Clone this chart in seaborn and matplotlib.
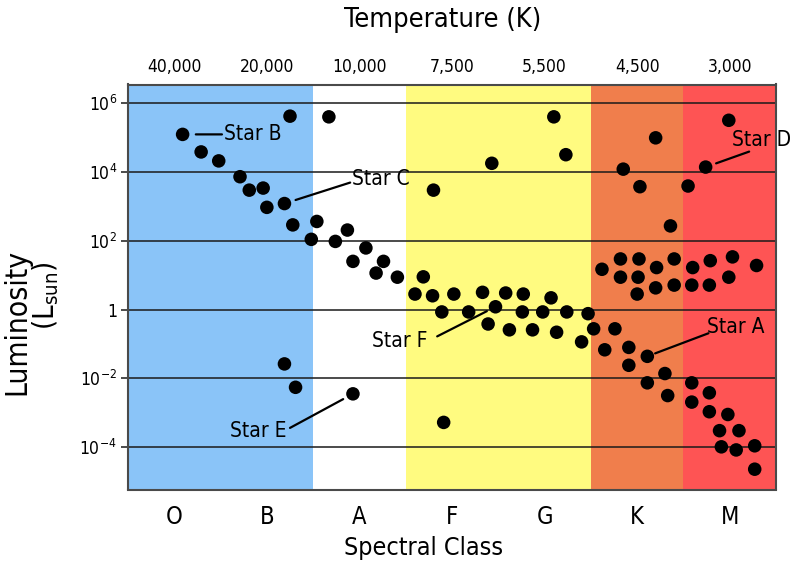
import matplotlib
matplotlib.use("Agg")
import matplotlib.pyplot as plt
import numpy as np
import pandas as pd
import seaborn as sns

# ---------------- data ----------------
classes = ["O", "B", "A", "F", "G", "K", "M"]
temp_labels = ["40,000", "20,000", "10,000", "7,500", "5,500", "4,500", "3,000"]
band_colors = ["#8AC4F8", "#8AC4F8", "#FFFFFF", "#FFFB80", "#FFFB80", "#F07E4C", "#FE5454"]
lum_ticks = [6, 4, 2, 0, -2, -4]
lum_tick_labels = ["10$^{6}$", "10$^{4}$", "10$^{2}$", "1", "10$^{-2}$", "10$^{-4}$"]

# spectral position (0 = O ... 6 = M) and log10 luminosity (L_sun)
spec = [0.09, 1.25, 1.67, 0.29, 0.48, 0.71, 0.81, 0.96, 1.19, 1.00,
        1.28, 1.54, 1.48, 1.74, 1.87, 2.07, 1.93, 2.26, 2.18, 2.41,
        2.80, 2.69, 2.60, 2.79, 2.89, 3.02, 3.18, 3.33, 3.47, 3.58,
        3.77, 3.76, 3.98, 4.07, 4.24, 4.47, 3.39, 3.62, 3.87, 4.13,
        4.40, 4.53, 4.76, 4.65, 4.91, 5.11, 4.91, 5.30, 5.11, 5.33,
        5.59, 5.59, 5.78, 5.78, 5.98, 5.89, 6.10, 5.91, 6.07, 6.27,
        6.27, 1.19, 1.31, 1.93, 2.91, 4.10, 3.43, 4.23, 5.20, 4.85,
        5.03, 5.36, 5.55, 5.74, 5.99, 4.62, 4.82, 5.02, 4.82, 5.01,
        5.21, 5.00, 5.20, 5.40, 5.40, 5.60, 5.59, 5.79, 5.78, 6.03,
        5.99, 6.29]
log_lum = [5.09, 5.62, 5.60, 4.58, 4.32, 3.86, 3.47, 3.53, 3.08, 2.97,
           2.46, 2.56, 2.04, 1.98, 2.31, 1.79, 1.40, 1.40, 1.06, 0.94,
           3.47, 0.95, 0.45, 0.40, -0.07, 0.45, -0.07, 0.50, 0.08, 0.48,
           0.45, -0.07, -0.07, 0.34, -0.07, -0.12, -0.42, -0.59, -0.59, -0.66,
           -0.94, -0.56, -0.56, -1.17, -1.10, -1.36, -1.62, -1.86, -2.13, -2.50,
           -2.13, -2.69, -2.42, -2.97, -3.05, -3.52, -3.52, -3.99, -4.08, -3.96,
           -4.64, -1.58, -2.26, -2.45, -3.28, 5.60, 4.25, 4.50, 4.99, 4.08,
           3.57, 2.43, 3.59, 4.14, 5.50, 1.17, 1.47, 1.47, 0.94, 0.94,
           1.22, 0.45, 0.63, 1.47, 0.71, 1.22, 0.71, 1.42, 0.71, 1.53,
           0.94, 1.28]

# labelled stars
star_names = ["Star B", "Star C", "Star D", "Star A", "Star F", "Star E"]
star_x = [0.09, 1.19, 5.74, 5.11, 3.47, 1.93]
star_y = [5.09, 3.08, 4.14, -1.36, 0.08, -2.45]
line_end_x = [0.515, 1.90, 6.21, 5.77, 2.84, 1.25]
line_end_y = [5.09, 3.69, 4.59, -0.69, -0.78, -3.44]
text_x = [0.54, 1.92, 6.02, 5.76, 2.73, 1.21]
text_y = [5.09, 3.79, 4.92, -0.51, -0.90, -3.52]
text_ha = ["left", "left", "left", "left", "right", "right"]
line_gap = [9.5, 8.4, 8.0, 6.0, 7.0, 8.0]

df = pd.DataFrame({"spec": spec, "log_lum": log_lum})

# ---------------- style ----------------
sns.set_style("white")
plt.rcParams["font.family"] = ["DejaVu Sans"]
plt.rcParams["font.stretch"] = "condensed"
plt.rcParams["text.color"] = "black"
plt.rcParams["xtick.color"] = "black"
plt.rcParams["ytick.color"] = "black"
plt.rcParams["xtick.labelcolor"] = "black"
plt.rcParams["ytick.labelcolor"] = "black"

W, H = 800, 573
fig = plt.figure(figsize=(W / 100, H / 100), dpi=100)
L, R, T, B = 128, 776, 84.5, 489.5
ax = fig.add_axes([L / W, 1 - B / H, (R - L) / W, (B - T) / H])

for i, c in enumerate(band_colors):
    ax.axvspan(i - 0.5, i + 0.5, color=c, lw=0, zorder=0)

for t in lum_ticks:
    ax.axhline(t, color="#1a1a1a", lw=1.1, zorder=1)

sns.scatterplot(data=df, x="spec", y="log_lum", color="black", s=95,
                edgecolor="none", linewidth=0, zorder=3, ax=ax, legend=False)

ax.set_xlim(-0.5, 6.5)
ax.set_ylim(-5.23, 6.54)

ax.set_xticks(range(len(classes)))
ax.set_xticklabels(classes, fontsize=17)
ax.tick_params(axis="x", length=0, pad=11)
ax.set_yticks(lum_ticks)
ax.set_yticklabels(lum_tick_labels, fontsize=12.5)
ax.tick_params(axis="y", length=5, width=1.1, color="#1a1a1a", pad=3, direction="out", left=True)
ax.set_xlabel("")
ax.set_ylabel("")

for s in ax.spines.values():
    s.set_color("#4a4a4a")
    s.set_linewidth(1.5)
    s.set_visible(True)

sec = ax.secondary_xaxis("top")
sec.set_xticks(range(len(temp_labels)))
sec.set_xticklabels(temp_labels, fontsize=12.5)
sec.tick_params(axis="x", length=0, pad=6)
sec.spines["top"].set_visible(False)

for name, sx, sy, lx, ly, tx, ty, ha, g in zip(star_names, star_x, star_y, line_end_x,
                                               line_end_y, text_x, text_y, text_ha, line_gap):
    ax.annotate("", xy=(sx, sy), xytext=(lx, ly), xycoords="data", textcoords="data",
                arrowprops=dict(arrowstyle="-", color="black", lw=1.6, shrinkA=0, shrinkB=g),
                zorder=4)
    ax.text(tx, ty, name, ha=ha, va="center", fontsize=15, color="black", zorder=5,
            clip_on=False)

fig.text(443 / W, 1 - 20 / H, "Temperature (K)", ha="center", va="center", fontsize=19.5)
fig.text(424 / W, 1 - 548 / H, "Spectral Class", ha="center", va="center", fontsize=18)
fig.text(17 / W, 1 - 322 / H, "Luminosity", ha="center", va="center", fontsize=21.5, rotation=90)
fig.text(46 / W, 1 - 296 / H, "(L$_{\\mathrm{sun}}$)", ha="center", va="center", fontsize=21, rotation=90)

fig.savefig("out.png", dpi=100)
